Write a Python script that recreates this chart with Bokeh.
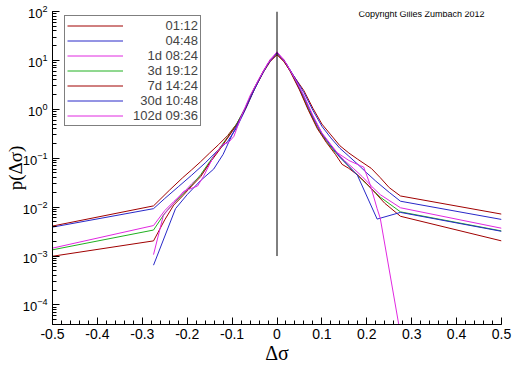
from bokeh.plotting import figure
from bokeh.models import Range1d, Legend, LegendItem, Label, FixedTicker, LogTicker
from bokeh.embed import file_html
from bokeh.resources import INLINE

# ---------------- data ----------------
x_ticks = [-0.5, -0.4, -0.3, -0.2, -0.1, 0, 0.1, 0.2, 0.3, 0.4, 0.5]
x_tick_labels = ["-0.5", "-0.4", "-0.3", "-0.2", "-0.1", "0", "0.1", "0.2", "0.3", "0.4", "0.5"]

series_names = ["01:12", "04:48", "1d 08:24", "3d 19:12", "7d 14:24", "30d 10:48", "102d 09:36"]

s1_x = [-0.5, -0.275, -0.24, -0.21, -0.19, -0.17, -0.15, -0.13, -0.11, -0.09, -0.07, -0.05, -0.03, -0.015, 0,
        0.015, 0.03, 0.06, 0.08, 0.1, 0.12, 0.14, 0.16, 0.18, 0.21, 0.23, 0.25, 0.275, 0.5]
s1_y = [4.1e-3, 1.06e-2, 0.022, 0.04, 0.058, 0.085, 0.128, 0.19, 0.29, 0.5, 1.05, 2.6, 5.8, 9.5, 13,
        9.5, 6.0, 2.4, 1.05, 0.5, 0.3, 0.18, 0.128, 0.095, 0.062, 0.04, 0.025, 0.0169, 7.2e-3]

s2_x = [-0.5, -0.275, -0.25, -0.22, -0.19, -0.16, -0.13, -0.11, -0.09, -0.07, -0.05, -0.03, -0.015, 0,
        0.015, 0.03, 0.06, 0.08, 0.1, 0.12, 0.14, 0.16, 0.18, 0.2, 0.22, 0.25, 0.275, 0.5]
s2_y = [3.9e-3, 9.3e-3, 0.015, 0.026, 0.045, 0.08, 0.15, 0.22, 0.42, 1.0, 2.6, 6.0, 10, 14,
        10, 6.2, 2.2, 0.95, 0.45, 0.26, 0.16, 0.11, 0.075, 0.05, 0.034, 0.02, 0.0132, 5.6e-3]

s3_x = [-0.5, -0.275, -0.25, -0.23, -0.21, -0.19, -0.17, -0.15, -0.13, -0.11, -0.09, -0.07, -0.05, -0.03, -0.015, 0,
        0.015, 0.03, 0.05, 0.07, 0.09, 0.11, 0.13, 0.15, 0.17, 0.19, 0.21, 0.23, 0.275, 0.5]
s3_y = [1.45e-3, 4.2e-3, 8.5e-3, 0.013, 0.019, 0.03, 0.044, 0.08, 0.15, 0.26, 0.48, 1.1, 2.8, 6.2, 10.5, 14.5,
        10.5, 6.2, 2.7, 1.0, 0.43, 0.23, 0.14, 0.09, 0.062, 0.042, 0.027, 0.018, 9.7e-3, 3.7e-3]

s4_x = [-0.5, -0.275, -0.25, -0.23, -0.21, -0.19, -0.17, -0.15, -0.13, -0.11, -0.09, -0.07, -0.05, -0.03, -0.015, 0,
        0.015, 0.03, 0.05, 0.07, 0.09, 0.11, 0.13, 0.15, 0.17, 0.19, 0.21, 0.23, 0.275, 0.5]
s4_y = [1.34e-3, 3.4e-3, 7.5e-3, 0.012, 0.018, 0.028, 0.046, 0.085, 0.15, 0.27, 0.5, 1.1, 2.8, 6.0, 10, 14,
        10, 6.0, 2.6, 1.0, 0.42, 0.22, 0.13, 0.085, 0.055, 0.036, 0.024, 0.016, 8.0e-3, 3.26e-3]

s5_x = [-0.5, -0.275, -0.25, -0.23, -0.21, -0.19, -0.17, -0.15, -0.13, -0.11, -0.09, -0.07, -0.05, -0.03, -0.015, 0,
        0.015, 0.03, 0.05, 0.07, 0.09, 0.11, 0.13, 0.145, 0.16, 0.18, 0.2, 0.22, 0.24, 0.275, 0.5]
s5_y = [0.99e-3, 2.04e-3, 5.5e-3, 0.011, 0.017, 0.027, 0.042, 0.08, 0.14, 0.26, 0.48, 1.05, 2.7, 6.0, 10, 14,
        10, 5.8, 2.5, 0.95, 0.4, 0.21, 0.12, 0.075, 0.062, 0.045, 0.03, 0.019, 0.012, 6.5e-3, 2.04e-3]

s6_x = [-0.275, -0.226, -0.2, -0.17, -0.141, -0.12, -0.1, -0.08, -0.06, -0.04, -0.02, 0,
        0.02, 0.04, 0.06, 0.08, 0.1, 0.12, 0.14, 0.16, 0.179, 0.223, 0.275, 0.5]
s6_y = [6.5e-4, 9.3e-3, 0.018, 0.035, 0.06, 0.12, 0.3, 0.7, 1.7, 4.0, 8.5, 14.5,
        8.8, 4.2, 1.8, 0.7, 0.32, 0.18, 0.105, 0.068, 0.045, 5.7e-3, 7.8e-3, 3.2e-3]

s7_x = [-0.275, -0.253, -0.208, -0.177, -0.164, -0.141, -0.121, -0.108, -0.096, -0.08, -0.06, -0.04, -0.02, 0,
        0.02, 0.04, 0.06, 0.08, 0.1, 0.12, 0.134, 0.16, 0.186, 0.193, 0.208, 0.223, 0.23, 0.275]
s7_y = [1.07e-3, 6.8e-3, 0.021, 0.027, 0.042, 0.11, 0.19, 0.21, 0.28, 0.7, 1.9, 4.2, 8.8, 15,
        8.8, 4.2, 1.9, 0.75, 0.33, 0.19, 0.13, 0.09, 0.07, 0.066, 0.028, 9.3e-3, 5.9e-3, 2.5e-5]

zero_line_x = [0, 0]
zero_line_y = [1e-3, 1e2]

series_colors = ["#A00000", "#2828C8", "#E028E0", "#20B020", "#A00000", "#2828C8", "#E028E0"]

# ---------------- figure ----------------
p = figure(width=512, height=366, x_range=Range1d(-0.5, 0.5), y_range=Range1d(10 ** -4.4, 100),
           y_axis_type="log", output_backend="svg", toolbar_location=None,
           min_border_left=52, min_border_top=11, min_border_right=11, min_border_bottom=39)
p.outline_line_color = None
p.grid.visible = False
p.background_fill_color = "white"
p.border_fill_color = "white"

xs = [s1_x, s2_x, s3_x, s4_x, s5_x, s6_x, s7_x]
ys = [s1_y, s2_y, s3_y, s4_y, s5_y, s6_y, s7_y]
renderers = []
for xv, yv, c in zip(xs, ys, series_colors):
    renderers.append(p.line(xv, yv, line_color=c, line_width=1))

p.line(zero_line_x, zero_line_y, line_color="black", line_width=1)

# axes
minor_x = [round(-0.5 + 0.02 * i, 2) for i in range(51)]
p.xaxis.ticker = FixedTicker(ticks=x_ticks, minor_ticks=minor_x)
p.xaxis.major_label_overrides = {t: l for t, l in zip(x_ticks, x_tick_labels)}
p.yaxis.ticker = LogTicker(desired_num_ticks=7, num_minor_ticks=10)

for ax in (p.xaxis[0], p.yaxis[0]):
    ax.axis_line_color = "black"
    ax.major_tick_line_color = "black"
    ax.minor_tick_line_color = "black"
    ax.major_tick_in = 7
    ax.major_tick_out = 0
    ax.minor_tick_in = 4
    ax.minor_tick_out = 0
    ax.major_label_text_color = "black"
    ax.major_label_text_font = "Liberation Sans"
    ax.axis_label_text_font = "Liberation Serif"
    ax.axis_label_text_font_style = "normal"
    ax.axis_label_text_color = "black"

p.xaxis.major_label_text_font_size = "14px"
p.xaxis.major_label_standoff = 4
p.xaxis.axis_label = "Δσ"
p.xaxis.axis_label_text_font_size = "20px"
p.xaxis.axis_label_standoff = 0

p.yaxis.major_label_text_font_size = "13px"
p.yaxis.major_label_standoff = 5
p.yaxis.axis_label = "p(Δσ)"
p.yaxis.axis_label_text_font_size = "19px"
p.yaxis.axis_label_standoff = -6

p.add_layout(Label(x=306, y=311, x_units="screen", y_units="screen", text="Copyright Gilles Zumbach 2012",
                   text_font="Liberation Sans", text_font_size="9px", text_align="left",
                   text_baseline="middle", text_color="black"))

# legend (labels right-aligned by padding with no-break spaces; digits/d = 0.556 em, space/colon = 0.278 em)
def text_em(n):
    return sum(0.556 if ch.isalnum() else 0.278 for ch in n)

w_max = max(text_em(n) for n in series_names)
def pad(n):
    k = int(round((w_max - text_em(n)) / 0.278))
    return "\u00a0" * k + n

items = [LegendItem(label=pad(n), renderers=[r]) for n, r in zip(series_names, renderers)]
legend = Legend(items=items, location=(12, 198), orientation="vertical",
                border_line_color="black", border_line_width=1, background_fill_color="white",
                background_fill_alpha=1.0, label_text_font="Liberation Sans", label_text_font_size="13px",
                glyph_width=56, glyph_height=15, label_height=15, label_standoff=10, spacing=0,
                padding=2, margin=0)
p.add_layout(legend, "center")

open("out.html", "w").write(file_html(p, INLINE))
